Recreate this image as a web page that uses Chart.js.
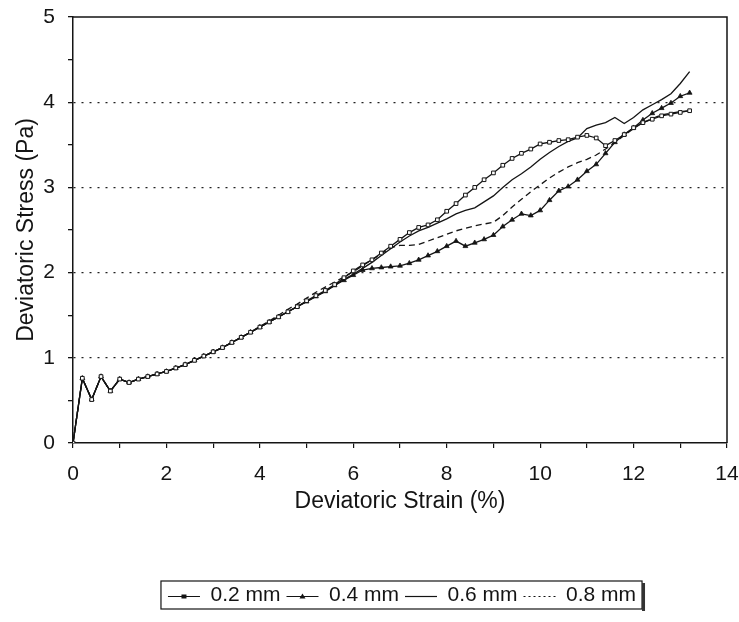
<!DOCTYPE html>
<html>
<head>
<meta charset="utf-8">
<script src="https://cdn.jsdelivr.net/npm/chart.js@4.4.0/dist/chart.umd.min.js"></script>
<style>
  html, body { margin: 0; padding: 0; background: #fff; }
</style>
</head>
<body>
<canvas id="myChart" width="739" height="622"></canvas>
<script>
// strain values (%) shared by all four runs
const strain = [0, 0.2, 0.4, 0.6, 0.8, 1.0, 1.2, 1.4, 1.6, 1.8, 2.0, 2.2, 2.4, 2.6, 2.8, 3.0, 3.2, 3.4, 3.6, 3.8,
  4.0, 4.2, 4.4, 4.6, 4.8, 5.0, 5.2, 5.4, 5.6, 5.8, 6.0, 6.2, 6.4, 6.6, 6.8, 7.0, 7.2, 7.4, 7.6, 7.8,
  8.0, 8.2, 8.4, 8.6, 8.8, 9.0, 9.2, 9.4, 9.6, 9.8, 10.0, 10.2, 10.4, 10.6, 10.8, 11.0, 11.2, 11.4, 11.6, 11.8,
  12.0, 12.2, 12.4, 12.6, 12.8, 13.0, 13.2];

const stress02 = [0, 0.76, 0.51, 0.78, 0.61, 0.75, 0.71, 0.75, 0.78, 0.81, 0.84, 0.88, 0.92, 0.97, 1.02, 1.07, 1.12, 1.18, 1.24, 1.30,
  1.36, 1.42, 1.48, 1.54, 1.60, 1.67, 1.73, 1.79, 1.86, 1.94, 2.02, 2.09, 2.15, 2.23, 2.31, 2.39, 2.47, 2.53, 2.56, 2.62,
  2.72, 2.81, 2.91, 3.00, 3.09, 3.17, 3.26, 3.34, 3.40, 3.45, 3.51, 3.53, 3.55, 3.56, 3.59, 3.61, 3.58, 3.49, 3.55, 3.62,
  3.70, 3.76, 3.80, 3.84, 3.86, 3.88, 3.90];

const stress04 = [0, 0.76, 0.51, 0.78, 0.61, 0.75, 0.71, 0.75, 0.78, 0.81, 0.84, 0.88, 0.92, 0.97, 1.02, 1.07, 1.12, 1.18, 1.24, 1.30,
  1.36, 1.42, 1.48, 1.54, 1.60, 1.66, 1.72, 1.78, 1.85, 1.91, 1.97, 2.03, 2.05, 2.06, 2.07, 2.08, 2.11, 2.15, 2.20, 2.25,
  2.31, 2.37, 2.31, 2.35, 2.39, 2.44, 2.54, 2.62, 2.69, 2.67, 2.73, 2.85, 2.96, 3.01, 3.09, 3.19, 3.27, 3.40, 3.53, 3.62,
  3.70, 3.79, 3.87, 3.93, 3.99, 4.07, 4.11];

const stress06 = [0, 0.76, 0.51, 0.78, 0.61, 0.75, 0.71, 0.75, 0.78, 0.81, 0.84, 0.88, 0.92, 0.97, 1.02, 1.07, 1.12, 1.18, 1.24, 1.30,
  1.36, 1.42, 1.48, 1.54, 1.60, 1.66, 1.72, 1.78, 1.85, 1.92, 1.98, 2.05, 2.12, 2.20, 2.28, 2.36, 2.43, 2.49, 2.53, 2.58,
  2.63, 2.69, 2.73, 2.76, 2.83, 2.90, 3.00, 3.09, 3.16, 3.24, 3.33, 3.41, 3.48, 3.54, 3.58, 3.69, 3.73, 3.76, 3.82, 3.75,
  3.82, 3.91, 3.97, 4.03, 4.10, 4.22, 4.36];

const stress08 = [0, 0.76, 0.51, 0.78, 0.61, 0.75, 0.71, 0.75, 0.78, 0.81, 0.84, 0.88, 0.92, 0.97, 1.02, 1.07, 1.12, 1.18, 1.24, 1.30,
  1.37, 1.43, 1.50, 1.57, 1.63, 1.70, 1.77, 1.83, 1.89, 1.95, 2.01, 2.08, 2.15, 2.22, 2.29, 2.32, 2.32, 2.33, 2.37, 2.41,
  2.45, 2.49, 2.52, 2.55, 2.57, 2.59, 2.67, 2.77, 2.86, 2.95, 3.03, 3.11, 3.18, 3.24, 3.29, 3.33, 3.38, 3.45, 3.53, 3.61,
  3.69, 3.76, 3.81, 3.85, 3.87, 3.89, 3.90];

const seriesLabels = ['0.2 mm', '0.4 mm', '0.6 mm', '0.8 mm'];
const xLabelTicks = [0, 2, 4, 6, 8, 10, 12, 14];
const yLabelTicks = [0, 1, 2, 3, 4, 5];

const ink = '#141414';
const FONT = '"Liberation Sans", Arial, sans-serif';
const legendDash = [[], [], [], [2, 3]];

function toPoints(ys) {
  return strain.map((x, i) => ({ x: x, y: ys[i] }));
}

// box on top/right of the plot + framed legend (centred under the plot) with own samples
const framePlugin = {
  id: 'frame',
  afterUpdate(chart) {
    const lg = chart.legend;
    const ca = chart.chartArea;
    const dx = (ca.left + ca.right) / 2 - (lg.left + lg.right) / 2 + 2;
    lg.left += dx;
    lg.right += dx;
    lg.legendHitBoxes.forEach(b => { b.left += dx; });
  },
  afterDatasetsDraw(chart) {
    const { ctx, chartArea } = chart;
    ctx.save();
    ctx.strokeStyle = ink;
    ctx.lineWidth = 1.5;
    ctx.beginPath();
    ctx.moveTo(chartArea.left, chartArea.top);
    ctx.lineTo(chartArea.right, chartArea.top);
    ctx.lineTo(chartArea.right, chartArea.bottom);
    ctx.stroke();
    ctx.restore();
  },
  afterDraw(chart) {
    const { ctx } = chart;
    const boxes = chart.legend.legendHitBoxes;
    if (!boxes || !boxes.length) return;
    const left = Math.min(...boxes.map(b => b.left)) - 7;
    const right = Math.max(...boxes.map(b => b.left + b.width)) + 6;
    const top = Math.min(...boxes.map(b => b.top)) - 4;
    const bottom = Math.max(...boxes.map(b => b.top + b.height)) + 3;
    ctx.save();
    ctx.strokeStyle = ink;
    ctx.lineWidth = 1.2;
    ctx.strokeRect(left, top, right - left, bottom - top);
    ctx.fillStyle = '#333';
    ctx.fillRect(right, top + 2, 3, bottom - top);
    const bw = chart.legend.options.labels.pointStyleWidth;
    boxes.forEach((b, i) => {
      const cx = b.left + bw / 2;
      const cy = b.top + b.height / 2 + 1;
      ctx.strokeStyle = ink;
      ctx.lineWidth = 1.2;
      ctx.setLineDash(legendDash[i]);
      ctx.beginPath();
      ctx.moveTo(b.left, cy);
      ctx.lineTo(b.left + bw, cy);
      ctx.stroke();
      ctx.setLineDash([]);
      ctx.fillStyle = ink;
      if (i === 0) {
        ctx.fillRect(cx - 2.5, cy - 2, 5, 4);
      } else if (i === 1) {
        ctx.beginPath();
        ctx.moveTo(cx, cy - 3);
        ctx.lineTo(cx + 3, cy + 2);
        ctx.lineTo(cx - 3, cy + 2);
        ctx.closePath();
        ctx.fill();
      }
    });
    ctx.restore();
  }
};

const data = {
  datasets: [
    {
      label: seriesLabels[0],
      data: toPoints(stress02),
      borderColor: ink,
      backgroundColor: '#fff',
      borderWidth: 1.3,
      pointStyle: 'rect',
      pointRadius: 2.6,
      pointBorderWidth: 1,
      pointBackgroundColor: '#fff',
      pointBorderColor: ink
    },
    {
      label: seriesLabels[1],
      data: toPoints(stress04),
      borderColor: ink,
      backgroundColor: ink,
      borderWidth: 1.3,
      pointStyle: 'triangle',
      pointRadius: 2.8,
      pointBorderWidth: 0.8,
      pointBackgroundColor: ink,
      pointBorderColor: ink
    },
    {
      label: seriesLabels[2],
      data: toPoints(stress06),
      borderColor: ink,
      backgroundColor: ink,
      borderWidth: 1.3,
      pointRadius: 0
    },
    {
      label: seriesLabels[3],
      data: toPoints(stress08),
      borderColor: ink,
      backgroundColor: ink,
      borderWidth: 1.3,
      borderDash: [6, 4],
      pointRadius: 0
    }
  ]
};

const config = {
  type: 'line',
  data,
  options: {
    responsive: false,
    animation: false,
    devicePixelRatio: 1,
    layout: { padding: { left: 13, right: 0, top: 1, bottom: 6 } },
    plugins: {
      tooltip: { enabled: false },
      legend: {
        position: 'bottom',
        labels: {
          usePointStyle: true,
          pointStyle: 'line',
          pointStyleWidth: 32,
          boxHeight: 21,
          padding: 6,
          color: ink,
          font: { family: FONT, size: 21 },
          generateLabels: chart => Chart.defaults.plugins.legend.labels.generateLabels(chart)
            .map(item => Object.assign(item, { strokeStyle: 'rgba(0,0,0,0)' }))
        }
      }
    },
    scales: {
      x: {
        type: 'linear',
        min: 0,
        max: 14,
        afterFit: scale => { scale.paddingLeft = 6; scale.paddingRight = 12; },
        ticks: {
          stepSize: 1,
          autoSkip: false,
          maxRotation: 0,
          color: ink,
          padding: 16,
          font: { family: FONT, size: 21, lineHeight: 1.0 },
          callback: v => xLabelTicks.includes(v) ? String(v) : ''
        },
        grid: { drawOnChartArea: false, color: ink, tickLength: 5, lineWidth: 1.2 },
        border: { color: ink, width: 1.5 },
        title: {
          display: true,
          text: 'Deviatoric Strain (%)',
          color: ink,
          font: { family: FONT, size: 23, lineHeight: 1.0 },
          padding: { top: -11, bottom: 66 }
        }
      },
      y: {
        min: 0,
        max: 5,
        afterFit: scale => { scale.width = 60; scale.paddingTop = 17; scale.paddingBottom = 4; },
        ticks: {
          stepSize: 0.5,
          autoSkip: false,
          color: ink,
          padding: 13,
          font: { family: FONT, size: 21 },
          callback: v => yLabelTicks.includes(v) ? String(v) : ''
        },
        grid: {
          color: c => (c.tick && Number.isInteger(c.tick.value) && c.tick.value > 0 && c.tick.value < 5) ? '#222' : 'rgba(0,0,0,0)',
          tickColor: ink,
          tickLength: 5,
          lineWidth: 1.3
        },
        border: { color: ink, width: 1.5, dash: [2, 6] },
        title: {
          display: true,
          text: 'Deviatoric Stress (Pa)',
          color: ink,
          font: { family: FONT, size: 23 },
          padding: { top: 0, bottom: 3 }
        }
      }
    }
  },
  plugins: [framePlugin]
};

const myChart = new Chart(document.querySelector('#myChart'), config);
</script>
</body>
</html>
